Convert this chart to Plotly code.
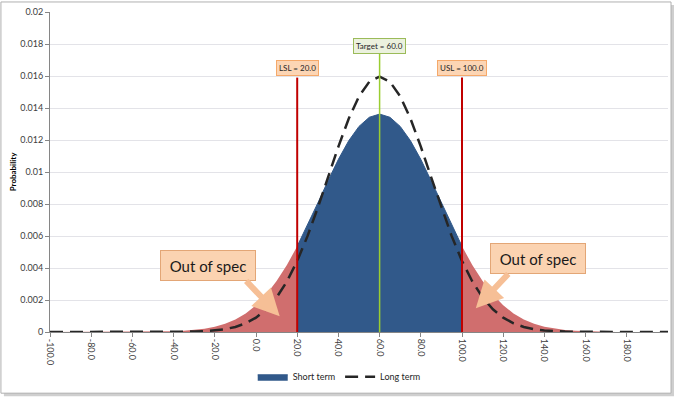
import plotly.graph_objects as go

# ---- data ----
x_vals = [-100, -95, -90, -85, -80, -75, -70, -65, -60, -55, -50, -45, -40, -35, -30, -25,
          -20, -15, -10, -5, 0, 5, 10, 15, 20, 25, 30, 35, 40, 45, 50, 55, 60, 65, 70, 75,
          80, 85, 90, 95, 100, 105, 110, 115, 120, 125, 130, 135, 140, 145, 150, 155, 160,
          165, 170, 175, 180, 185, 190, 195, 200]

short_term = [0, 0, 0, 0, 0, 0, 0, 0, 0.000003, 0.000006, 0.000012, 0.000022, 0.00004,
              0.000071, 0.000122, 0.000203, 0.000328, 0.000515, 0.000785, 0.00116, 0.00167,
              0.00234, 0.00318, 0.00419, 0.00536, 0.00667, 0.00806, 0.00946, 0.01079, 0.01195,
              0.01285, 0.01342, 0.01362, 0.01342, 0.01285, 0.01195, 0.01079, 0.00946, 0.00806,
              0.00667, 0.00536, 0.00419, 0.00318, 0.00234, 0.00167, 0.00116, 0.000785,
              0.000515, 0.000328, 0.000203, 0.000122, 0.000071, 0.00004, 0.000022, 0.000012,
              0.000006, 0.000003, 0, 0, 0, 0]

long_term = [0, 0, 0, 0, 0, 0, 0, 0, 0, 0, 0, 0.000002, 0.000005, 0.000012, 0.000025,
             0.000049, 0.000095, 0.000177, 0.000317, 0.000543, 0.000896, 0.00142, 0.00216,
             0.00316, 0.00444, 0.00599, 0.00777, 0.00968, 0.01159, 0.01333, 0.01473, 0.01564,
             0.01596, 0.01564, 0.01473, 0.01333, 0.01159, 0.00968, 0.00777, 0.00599, 0.00444,
             0.00316, 0.00216, 0.00142, 0.000896, 0.000543, 0.000317, 0.000177, 0.000095,
             0.000049, 0.000025, 0.000012, 0.000005, 0.000002, 0, 0, 0, 0, 0, 0, 0]

LSL = 20.0
USL = 100.0
TARGET = 60.0

x_ticks = [-100, -80, -60, -40, -20, 0, 20, 40, 60, 80, 100, 120, 140, 160, 180]
x_tick_labels = ["%.1f" % v for v in x_ticks]
y_ticks = [0, 0.002, 0.004, 0.006, 0.008, 0.01, 0.012, 0.014, 0.016, 0.018, 0.02]
y_tick_labels = ["0", "0.002", "0.004", "0.006", "0.008", "0.01", "0.012", "0.014",
                 "0.016", "0.018", "0.02"]

# ---- split short-term curve at spec limits ----
i_lsl = x_vals.index(int(LSL))
i_usl = x_vals.index(int(USL))

RED = "#d06e6e"
BLUE = "#31598a"
FONT = "Lato, Liberation Sans, sans-serif"

fig = go.Figure()
fig.add_trace(go.Scatter(x=x_vals[:i_lsl + 1], y=short_term[:i_lsl + 1], mode="lines",
                         fill="tozeroy", fillcolor=RED, line=dict(width=0, color=RED),
                         showlegend=False, hoverinfo="skip"))
fig.add_trace(go.Scatter(x=x_vals[i_usl:], y=short_term[i_usl:], mode="lines",
                         fill="tozeroy", fillcolor=RED, line=dict(width=0, color=RED),
                         showlegend=False, hoverinfo="skip"))
fig.add_trace(go.Scatter(x=x_vals[i_lsl:i_usl + 1], y=short_term[i_lsl:i_usl + 1],
                         mode="lines", fill="tozeroy", fillcolor=BLUE,
                         line=dict(width=1, color=BLUE), name="Short term"))
fig.add_trace(go.Scatter(x=x_vals, y=long_term, mode="lines", name="Long term",
                         line=dict(color="#262626", width=2.5, dash="13px,7px")))

# spec lines
fig.add_shape(type="line", x0=LSL, x1=LSL, y0=0, y1=0.0159, xref="x", yref="y",
              line=dict(color="#c00000", width=2))
fig.add_shape(type="line", x0=USL, x1=USL, y0=0, y1=0.0159, xref="x", yref="y",
              line=dict(color="#c00000", width=2))
fig.add_shape(type="line", x0=TARGET, x1=TARGET, y0=0, y1=0.0174, xref="x", yref="y",
              line=dict(color="#9acd32", width=1.5))

# frame + shadow
fig.add_shape(type="rect", xref="paper", yref="paper", x0=-0.0746, x1=1.0097,
              y0=-0.2006, y1=1.0219, fillcolor="#cfcfcf", line=dict(width=0), layer="below")
fig.add_shape(type="rect", xref="paper", yref="paper", x0=-0.0794, x1=1.0049,
              y0=-0.1912, y1=1.0313, fillcolor="white", line=dict(color="#b0b0b0", width=1),
              layer="below")

small_font = dict(family=FONT, size=8, color="#262626")
fig.add_annotation(x=LSL, y=0.01651, text="LSL = %.1f" % LSL, showarrow=False,
                   bgcolor="#fcd5b4", bordercolor="#f5a96a", borderwidth=1, borderpad=2,
                   font=small_font)
fig.add_annotation(x=USL, y=0.01651, text="USL = %.1f" % USL, showarrow=False,
                   bgcolor="#fcd5b4", bordercolor="#f5a96a", borderwidth=1, borderpad=2,
                   font=small_font)
fig.add_annotation(x=TARGET, y=0.01785, text="Target = %.1f" % TARGET, showarrow=False,
                   bgcolor="#ebf1de", bordercolor="#9bbb59", borderwidth=1, borderpad=2,
                   font=small_font)

# Out of spec callouts
big_font = dict(family=FONT, size=15, color="#1a1a1a")
for bx, by in [(-23.5, 0.00418), (136.8, 0.00461)]:
    fig.add_annotation(x=bx, y=by, text="Out of spec", showarrow=False,
                       bgcolor="#fbd3b1", bordercolor="#e3a676", borderwidth=1,
                       borderpad=4, width=86, height=21, font=big_font)
for tx, ty, axp, ayp in [(11.5, 0.00098, -35, -37), (106.7, 0.00148, 34, -36)]:
    fig.add_annotation(x=tx, y=ty, text=" ", showarrow=True, ax=axp, ay=ayp,
                       arrowhead=2, arrowsize=0.9, arrowwidth=6, arrowcolor="#f6bf96",
                       font=dict(size=1))

tick_font = dict(family=FONT, size=9, color="#404040")
fig.update_xaxes(range=[-100, 200], tickvals=x_ticks, ticktext=x_tick_labels,
                 tickangle=90, tickfont=tick_font, showgrid=False, zeroline=False,
                 showline=True, linecolor="#868686", linewidth=1, ticks="outside",
                 ticklen=4, tickcolor="#868686", automargin=False)
fig.update_yaxes(range=[0, 0.02], tickvals=y_ticks, ticktext=y_tick_labels,
                 tickfont=tick_font, showgrid=True, gridcolor="#e3e3e8", gridwidth=1,
                 zeroline=False, showline=True, linecolor="#868686", linewidth=1,
                 ticks="outside", ticklen=4, tickcolor="#868686", automargin=False,
                 title=dict(text="<b>Probability</b>",
                            font=dict(family=FONT, size=8, color="#000000"),
                            standoff=2))

fig.update_layout(
    width=678, height=398,
    margin=dict(l=50, r=10, t=12, b=66, autoexpand=False),
    paper_bgcolor="white", plot_bgcolor="rgba(0,0,0,0)",
    showlegend=True,
    legend=dict(orientation="h", x=0.468, y=-0.14, xanchor="center", yanchor="middle",
                font=dict(family=FONT, size=9, color="#262626"),
                bgcolor="rgba(0,0,0,0)", itemwidth=30),
)

fig.write_html("out.html", config={"displayModeBar": False},
               post_script="document.body.style.margin='0px';"
                           "document.body.style.overflow='hidden';")
